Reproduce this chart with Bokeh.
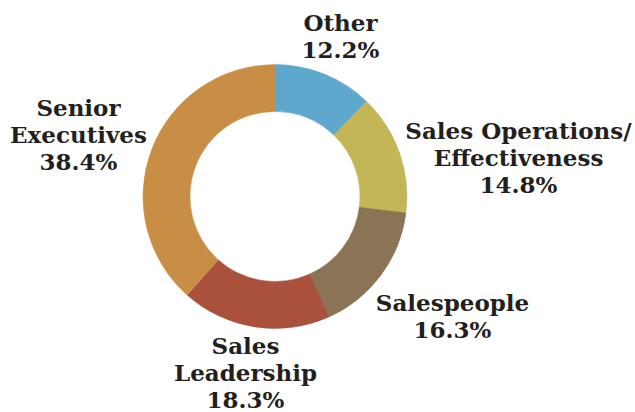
import math
from bokeh.plotting import figure
from bokeh.models import Range1d, ColumnDataSource
from bokeh.core.properties import value
from bokeh.embed import file_html
from bokeh.resources import INLINE

# ---- data ----
categories = ["Other", "Sales Operations/\nEffectiveness", "Salespeople",
              "Sales\nLeadership", "Senior\nExecutives"]
shares = [12.2, 14.8, 16.3, 18.3, 38.4]
colors = ["#5FA8CD", "#C3B657", "#8B7356", "#A9513D", "#C98E46"]

# ---- layout (screen px) ----
W, H = 635, 412
cx, cy = 274.5, 196.0          # donut centre (screen px)
R_OUT, R_IN = 132, 85
# label block centres as offsets from donut centre (screen px, y down)
label_dx = [65.5, 243.5, 177.5, -29.5, -196.5]
label_dy = [-161, -39, 119, 175.5, -62]

def sy(y):
    return H - y

total = sum(shares)
starts, ends = [], []
acc = 0.0
for s in shares:
    a0 = math.pi / 2 - 2 * math.pi * acc / total
    acc += s
    a1 = math.pi / 2 - 2 * math.pi * acc / total
    starts.append(a0)
    ends.append(a1)

src = ColumnDataSource(dict(start=starts, end=ends, color=colors,
                            x=[cx] * len(shares), y=[sy(cy)] * len(shares)))

p = figure(width=W, height=H, output_backend="svg", toolbar_location=None,
           x_range=Range1d(0, W), y_range=Range1d(0, H),
           min_border=0)
p.axis.visible = False
p.grid.visible = False
p.outline_line_color = None
p.background_fill_color = "white"
p.border_fill_color = "white"

p.annular_wedge(x="x", y="y", inner_radius=R_IN, outer_radius=R_OUT,
                start_angle="start", end_angle="end", direction="clock",
                fill_color="color", line_color="color", line_width=0.5,
                source=src)

texts = [f"{c}\n{s:.1f}%" for c, s in zip(categories, shares)]
lsrc = ColumnDataSource(dict(
    x=[cx + dx for dx in label_dx],
    y=[sy(cy + dy) for dy in label_dy],
    text=texts))
p.text(x="x", y="y", text="text", source=lsrc,
       text_font=value("DejaVu Serif"), text_font_style="bold",
       text_font_size="23px", text_color="#231F20",
       text_align="center", text_baseline="middle", text_line_height=1.0)

open("out.html", "w").write(file_html(p, INLINE))
